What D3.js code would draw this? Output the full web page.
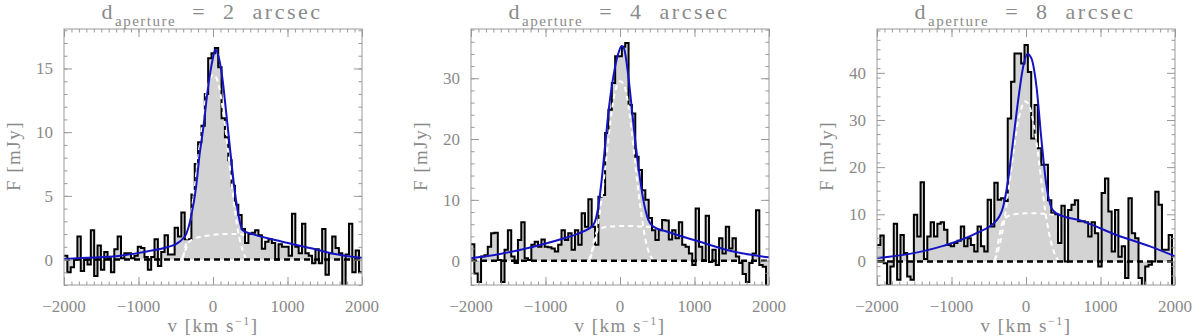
<!DOCTYPE html>
<html>
<head>
<meta charset="utf-8">
<script src="https://cdn.jsdelivr.net/npm/d3@7"></script>
<style>
  body { margin: 0; background: #fff; }
  text { font-family: "Liberation Serif", serif; fill: #8a8a8a; }
</style>
</head>
<body>
<div id="chart"></div>
<script>
// velocity channels: first edge and width (km/s)
const vStart = -2000, binWidth = 45;

const apertures = [2, 4, 8];

// binned flux per channel, mJy
const flux2 = [0.3,-1.0,-0.6,0.0,1.8,-0.9,0.0,-0.4,2.3,-1.3,1.1,-0.8,0.6,0.1,-1.0,0.8,1.8,0.1,0.5,0.5,
  0.1,0.3,1.0,0.9,0.2,-0.8,0.2,1.6,-0.5,0.6,1.9,0.4,0.4,2.5,1.8,3.7,1.6,1.6,5.1,7.5,
  9.2,10.5,13.0,15.8,16.2,16.6,15.1,11.1,9.6,7.8,5.8,4.3,3.5,2.4,1.3,2.0,2.1,2.3,1.9,0.85,
  1.4,1.6,1.3,0.0,1.2,1.0,1.0,0.3,3.6,1.0,0.5,2.8,0.5,0.3,-0.3,0.8,-0.3,2.4,-1.2,0.5,
  1.8,0.9,0.5,-2.6,0.4,2.8,-1.0,0.7,-1.0];
const flux4 = [2.7,-2.1,-3.5,0.7,0.9,2.3,4.5,4.6,0.1,-3.5,1.8,5.0,0.7,-0.4,3.4,6.3,0.4,0.1,2.6,3.1,
  2.3,3.5,2.3,2.2,2.0,1.5,2.6,5.0,3.4,4.5,1.8,5.0,2.6,7.8,5.6,10.1,5.6,2.6,10.5,10.8,
  21.0,24.8,29.2,33.6,33.6,35.2,35.8,25.6,24.2,17.1,14.9,11.6,10.0,7.0,5.0,3.4,5.0,6.7,6.6,3.5,
  5.0,3.7,6.3,2.6,2.3,1.2,-0.7,8.6,2.3,0.1,7.4,-0.2,1.8,-0.7,3.7,1.2,5.6,2.0,3.7,0.7,
  -0.4,-2.2,-3.5,-0.4,1.2,8.3,-0.7,-1.0,-4.5];
const flux8 = [3.5,5.5,-0.4,-5.0,-1.1,8.0,-3.9,5.6,1.8,-3.2,-3.9,9.9,5.3,16.8,0.5,5.3,8.3,5.3,8.0,8.3,
  6.7,3.5,3.2,3.9,4.4,7.4,3.2,4.9,3.5,2.1,7.4,3.2,2.1,13.1,7.4,16.7,13.1,13.4,12.8,30.3,
  38.1,44.1,44.1,42.0,45.9,40.2,26.1,33.2,24.0,20.5,20.5,13.0,10.2,10.0,3.9,11.8,0.0,10.9,12.0,13.0,
  8.5,8.5,8.3,5.3,8.3,6.0,-1.1,14.5,17.6,10.6,2.1,10.9,1.0,3.2,-3.5,13.4,6.0,4.9,-3.5,-6.0,
  -1.1,-0.7,0.0,14.8,12.0,2.5,2.5,5.6,-6.0];

// total fit [v, F]
const fit2 = [[-2000,0.05],[-1600,0.15],[-1300,0.26],[-850,0.68],[-630,0.94],[-450,1.4],[-360,2.0],
  [-295,3.35],[-227,5.7],[-183,8.1],[-129,10.4],[-71,13.3],[-5,15.7],[31,16.5],[76,15.9],[129,14.1],
  [174,11.7],[240,8.1],[285,5.7],[330,3.9],[396,2.3],[530,2.0],[930,1.4],[1376,0.8],[1600,0.47],[2000,0.13]];
const fit4 = [[-2000,0.4],[-1611,1.1],[-1163,2.3],[-716,3.8],[-492,4.8],[-358,5.9],[-291,8.9],[-246,13.3],
  [-201,18.8],[-157,24.2],[-89,30.3],[-22,34.1],[22,35.3],[54,34.9],[112,30.3],[179,22.6],[246,15.5],
  [313,10.0],[380,6.7],[447,5.6],[626,4.8],[1074,3.1],[1521,1.5],[2000,0.55]];
const fit8 = [[-2000,0.7],[-1561,1.6],[-1113,3.3],[-665,6.0],[-396,8.7],[-307,11.6],[-240,17.3],[-172,25.7],
  [-105,34.2],[-38,41.3],[20,44.0],[74,43.0],[141,37.0],[208,25.7],[276,15.9],[343,11.3],[410,10.2],
  [768,8.5],[1216,5.6],[1664,3.2],[2000,1.1]];

// narrow and broad components [v, F]
const narrow2 = [[-400,0.2],[-350,1.6],[-300,3.3],[-250,5.5],[-200,8.0],[-150,10.4],[-100,12.6],[-50,14.0],
  [0,14.5],[50,14.2],[100,13.0],[150,11.0],[200,8.6],[250,6.0],[300,3.6],[350,1.8],[400,0.7],[440,0.1]];
const broad2 = [[-420,0.0],[-380,0.6],[-330,1.3],[-270,1.6],[-150,1.8],[0,1.95],[150,2.0],[300,2.0],[420,1.95]];
const narrow4 = [[-400,0.3],[-350,2.5],[-300,5.5],[-250,10],[-200,15],[-150,20.5],[-100,25.5],[-50,28.5],
  [0,29.5],[50,29],[100,26.5],[150,22],[200,16.5],[250,11],[300,6.5],[350,3.0],[400,1.0],[440,0.2]];
const broad4 = [[-420,0.0],[-380,1.5],[-330,4.2],[-280,5.2],[-150,5.6],[0,5.7],[150,5.7],[300,5.6],[430,5.5]];
const narrow8 = [[-420,0.3],[-370,2.5],[-320,6],[-270,11],[-220,17],[-170,23],[-120,28.5],[-70,32],
  [-20,34],[30,33.5],[80,31],[130,26.5],[180,20.5],[230,14],[280,8.5],[330,4.5],[380,1.8],[430,0.3]];
const broad8 = [[-420,0.0],[-380,3.5],[-330,7.5],[-280,9.2],[-150,10.0],[0,10.2],[150,10.2],[300,10.0],[430,9.8]];

const xTicks = [-2000, -1000, 0, 1000, 2000];
const yTicks2 = [0, 5, 10, 15];
const yTicks4 = [0, 10, 20, 30];
const yTicks8 = [0, 10, 20, 30, 40];
const yRange2 = [-2, 18.1];
const yRange4 = [-4, 38.1];
const yRange8 = [-5, 49.3];

const panels = [
  { ap: apertures[0], flux: flux2, fit: fit2, narrow: narrow2, broad: broad2, ticks: yTicks2, yr: yRange2, minor: 1 },
  { ap: apertures[1], flux: flux4, fit: fit4, narrow: narrow4, broad: broad4, ticks: yTicks4, yr: yRange4, minor: 2 },
  { ap: apertures[2], flux: flux8, fit: fit8, narrow: narrow8, broad: broad8, ticks: yTicks8, yr: yRange8, minor: 2 }
];

const WIDTH = 1200, HEIGHT = 336;
const panelLeft = [64, 471, 877], plotW = 298, plotTop = 29, plotH = 256;

const svg = d3.select("#chart").append("svg")
  .attr("width", WIDTH).attr("height", HEIGHT);

panels.forEach((p, i) => {
  const g = svg.append("g").attr("transform", `translate(${panelLeft[i]},${plotTop})`);
  const x = d3.scaleLinear().domain([-2000, 2000]).range([0, plotW]);
  const y = d3.scaleLinear().domain(p.yr).range([plotH, 0]);

  const clipId = "clip" + i;
  g.append("clipPath").attr("id", clipId).append("rect")
    .attr("width", plotW).attr("height", plotH);
  const body = g.append("g").attr("clip-path", `url(#${clipId})`);

  // channels -> step points
  const bins = p.flux.map((f, k) => ({ v0: vStart + k * binWidth, f: f }));
  const steps = bins.concat([{ v0: vStart + bins.length * binWidth, f: bins[bins.length - 1].f }]);

  body.append("path")
    .datum(steps)
    .attr("d", d3.area().curve(d3.curveStepAfter)
      .x(d => x(d.v0)).y0(y(0)).y1(d => y(d.f)))
    .attr("fill", "#d3d3d3");

  body.append("path")
    .datum(steps)
    .attr("d", d3.line().curve(d3.curveStepAfter).x(d => x(d.v0)).y(d => y(d.f)))
    .attr("fill", "none").attr("stroke", "#000").attr("stroke-width", 2);

  const smooth = d3.line().curve(d3.curveMonotoneX).x(d => x(d[0])).y(d => y(d[1]));
  [p.narrow, p.broad].forEach(c => {
    body.append("path").attr("d", smooth(c))
      .attr("fill", "none").attr("stroke", "#fff")
      .attr("stroke-width", 2).attr("stroke-dasharray", "5,4");
  });

  body.append("line")
    .attr("x1", 0).attr("x2", plotW).attr("y1", y(0)).attr("y2", y(0))
    .attr("stroke", "#000").attr("stroke-width", 2.5).attr("stroke-dasharray", "6,4");

  body.append("path").attr("d", smooth(p.fit))
    .attr("fill", "none").attr("stroke", "#1414c4").attr("stroke-width", 2);

  // frame and ticks
  const tickCol = "#999";
  const minorX = d3.range(-2000, 2001, 100);
  const minorY = d3.range(Math.ceil(p.yr[0]), p.yr[1], p.minor);
  const ax = (gen, tv, size, tr) => {
    const a = g.append("g").attr("transform", tr)
      .call(gen.tickValues(tv).tickSize(size).tickFormat(""));
    a.select(".domain").remove();
    a.selectAll("line").attr("stroke", tickCol);
  };
  ax(d3.axisBottom(x), minorX, -3.5, `translate(0,${plotH})`);
  ax(d3.axisBottom(x), xTicks, -8, `translate(0,${plotH})`);
  ax(d3.axisTop(x), minorX, -3.5, "translate(0,0)");
  ax(d3.axisTop(x), xTicks, -8, "translate(0,0)");
  ax(d3.axisLeft(y), minorY, -3.5, "translate(0,0)");
  ax(d3.axisLeft(y), p.ticks, -8, "translate(0,0)");
  ax(d3.axisRight(y), minorY, -3.5, `translate(${plotW},0)`);
  ax(d3.axisRight(y), p.ticks, -8, `translate(${plotW},0)`);

  g.append("rect").attr("width", plotW).attr("height", plotH)
    .attr("fill", "none").attr("stroke", tickCol).attr("stroke-width", 1);

  // tick labels
  g.selectAll(".xl").data(xTicks).enter().append("text")
    .attr("x", d => x(d)).attr("y", plotH + 27)
    .attr("text-anchor", "middle").attr("font-size", 17)
    .text(d => d < 0 ? "\u2212" + Math.abs(d) : d);
  g.selectAll(".yl").data(p.ticks).enter().append("text")
    .attr("x", -11).attr("y", d => y(d) + 6)
    .attr("text-anchor", "end").attr("font-size", 17)
    .text(d => d);

  // axis titles
  const xt = g.append("text").attr("x", plotW / 2).attr("y", plotH + 47)
    .attr("text-anchor", "middle").attr("font-size", 19).attr("letter-spacing", 1.5);
  xt.append("tspan").text("v [km s");
  xt.append("tspan").attr("dy", -7).attr("font-size", 12).text("\u22121");
  xt.append("tspan").attr("dy", 7).text("]");

  g.append("text")
    .attr("transform", `translate(-44,${plotH / 2 - 1}) rotate(-90)`)
    .attr("text-anchor", "middle").attr("font-size", 19).attr("letter-spacing", 1.5)
    .text("F [mJy]");

  const tt = g.append("text").attr("x", plotW / 2 - 1).attr("y", -10)
    .attr("text-anchor", "middle").attr("font-size", 22).attr("letter-spacing", 2.5)
    .style("white-space", "pre");
  tt.append("tspan").text("d");
  tt.append("tspan").attr("dy", 7).attr("font-size", 15).attr("letter-spacing", 1.5).text("aperture");
  tt.append("tspan").attr("dy", -7).text("  =  " + p.ap + "  arcsec");
});
</script>
</body>
</html>
